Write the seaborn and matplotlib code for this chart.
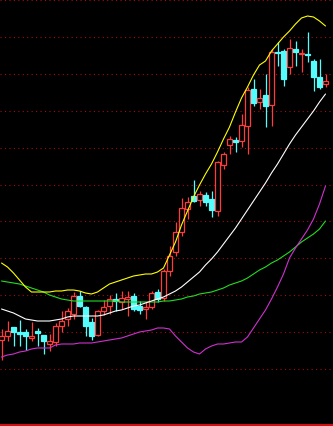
import numpy as np
import pandas as pd
import matplotlib
matplotlib.use("Agg")
import matplotlib.pyplot as plt
import seaborn as sns

# ---- data (in screen-level units: smaller = higher on chart) ----
color_up = [1,1,0,0,0,1,0,0,1,1, 1,1,1,0,0,0,1,1,1,0, 1,1,0,0,1,1,0,1,1,1,
            1,1,0,1,0,0,1,1,1,0, 1,1,0,1,0,1,0,0,1,0, 1,0,0,0,1]
body_top = [337,332,328,333,333,337,332,336,342,327, 322,312,297,297,308,323,312,308,300,300,
            299,298,297,307,308,294,293,272,257,233, 209,203,197,195,196,200,163,155,140,141,
            126,91,90,99,96,53,52.5,52,49,50, 53.5,54.5,62,78,82]
body_bot = [341,337,333,334.5,337,338.5,333.5,342,345,343, 327,320,315,307,327,337,336,312,307,301.5,
            303,300,310,311,309.5,308,300,299,272,253, 233,210,202,201,203,211,212,166,146,142.5,
            142,127,104,103,107,106,54,80,68,53, 55,56,78,88,84.5]
high = [330,322,328,321,330,323,329,336,335,324, 312,309,293,292,307,319,311,301,296,294,
        292,292,294,302,303,292,290,270,247,223, 199,198,181,192,193,192,162,153,137,138,
        115,88,80,90,75,50,43,50,40,42, 50,33,60,60,75]
low = [361,342,347,347,351,342,347,355,352,347, 333,327,320,308,337,341,337,316,315,312,
       310,317,312,315,320,310,303,302,277,257, 237,220,203,207,207,218,217,170,155,153,
       148,155,107,110,128,127,67,87,75,67, 73,63,92,90,88]

upper_band = [264,268,274,281,288,293,293,293,293,292, 292,291,291,292,294,295,293,289,285,283,
              281,279,277,276,275,275,273,269,256,243, 226,212,198,186,175,165,153,140,128,113,
              99,88,76,66,62,52,45,38,32,25, 19,17,18,22,27]
mid_band = [310,312,314,317,320,321,322,322,322,321, 320,318,317,317,317,317,317,316,314,312,
            311,309,307,306,304,302,300,298,295,292, 288,283,278,273,266,260,253,245,237,229,
            220,211,202,193,184,174,165,155,145,136, 128,120,112,103,95]
long_ma = [282,283,284,285,287,289,291,293,296,298, 300,301,302,302,302,302,302,302,302,302,
           303,303,303,303,303,303,303,302,302,301, 300,298,297,295,294,293,291,289,286,284,
           282,279,275,271,268,264,261,257,253,248, 243,239,235,230,222]
lower_band = [358,356,355,353,352,350,349,349,349,346, 345,345,345,344,344,344,343,342,341,340,
              339,337,335,333,332,331,329,329,330,337, 343,349,353,355,350,347,345,345,344,343,
              343,338,329,320,311,300,288,275,259,249, 240,231,220,205,187]

grid_levels = [1, 37.9, 74.8, 111.7, 148.6, 185.5, 222.4, 259.3, 296.2, 333.1, 370]

H = 427  # total chart height in the same units
def lvl(a):
    return H - np.asarray(a, dtype=float)

RED = "#ff3c3c"
CYAN = "#54fcfc"

sns.set_style("dark", {"axes.facecolor": "black", "figure.facecolor": "black"})

fig = plt.figure(figsize=(3.33, 4.27), dpi=100, facecolor="black")
ax = fig.add_axes([0, 0, 1, 1])
ax.set_facecolor("black")

n = len(color_up)
x = np.arange(n)
ax.set_xlim(-0.25, 55.25)
ax.set_ylim(0, H)

for g in grid_levels:
    ax.axhline(H - g, color="#a01010", lw=0.8, ls=(0, (1, 3)), zorder=1)
ax.axhline(0.8, color="#d01010", lw=1.5, zorder=1)

t = lvl(body_top); b = lvl(body_bot); hi = lvl(high); lo = lvl(low)
up = np.array(color_up, dtype=bool)
w = 0.72
for i in range(n):
    c = RED if up[i] else CYAN
    ax.vlines(x[i], t[i], hi[i], color=c, lw=0.9, zorder=3)
    ax.vlines(x[i], lo[i], b[i], color=c, lw=0.9, zorder=3)
    hgt = max(t[i] - b[i], 0.6)
    if up[i]:
        ax.bar(x[i], hgt, bottom=b[i], width=w, facecolor="black", edgecolor=c, lw=0.9, zorder=4)
    else:
        ax.bar(x[i], hgt, bottom=b[i], width=w, facecolor=c, edgecolor=c, lw=0.9, zorder=4)

df = pd.DataFrame({"i": x, "upper": lvl(upper_band), "mid": lvl(mid_band),
                   "ma": lvl(long_ma), "lower": lvl(lower_band)})
for col, colr in [("ma", "#22dd22"), ("lower", "#d030d0"), ("mid", "#ffffff"), ("upper", "#ffff00")]:
    sns.lineplot(data=df, x="i", y=col, ax=ax, color=colr, lw=0.8, zorder=5)

ax.set_axis_off()
fig.savefig("out.png", dpi=100, facecolor="black")
